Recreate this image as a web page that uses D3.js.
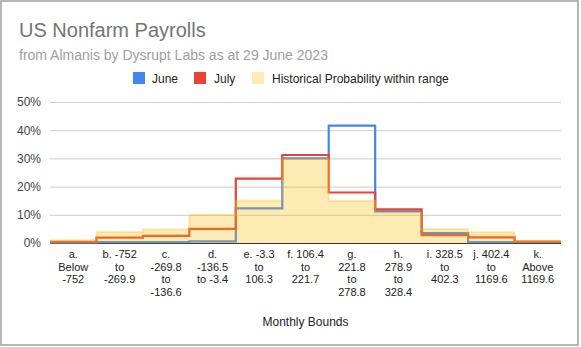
<!DOCTYPE html>
<html>
<head>
<meta charset="utf-8">
<script src="https://cdn.jsdelivr.net/npm/d3@7/dist/d3.min.js"></script>
<style>
  html, body { margin: 0; padding: 0; background: #fff; }
  svg { display: block; font-family: Arial, "Liberation Sans", sans-serif; }
</style>
</head>
<body>
<svg id="chart" width="581" height="347"></svg>
<script>
// ---- data ----
const categories = ["a", "b", "c", "d", "e", "f", "g", "h", "i", "j", "k"];
const categoryLabels = [
  ["a.", "Below", "-752"],
  ["b. -752", "to", "-269.9"],
  ["c.", "-269.8", "to", "-136.6"],
  ["d.", "-136.5", "to -3.4"],
  ["e. -3.3", "to", "106.3"],
  ["f. 106.4", "to", "221.7"],
  ["g.", "221.8", "to", "278.8"],
  ["h.", "278.9", "to", "328.4"],
  ["i. 328.5", "to", "402.3"],
  ["j. 402.4", "to", "1169.6"],
  ["k.", "Above", "1169.6"]
];
const june = [0.1, 0.3, 0.3, 0.6, 12.3, 30.0, 41.6, 11.2, 3.5, 0.3, 0.3];
const july = [0.4, 1.9, 2.5, 5.0, 22.8, 31.2, 17.9, 11.9, 2.8, 2.0, 0.5];
const historical = [1.0, 3.9, 4.8, 9.9, 15.0, 29.9, 15.0, 10.9, 5.0, 3.8, 0.7];
const yTicks = [0, 10, 20, 30, 40, 50];
const seriesNames = ["June", "July", "Historical Probability within range"];

// ---- layout ----
const plot = { left: 50, right: 561, top: 102, bottom: 243 };
const svg = d3.select("#chart");

svg.append("rect").attr("x", 1).attr("y", 1).attr("width", 577).attr("height", 344)
  .attr("fill", "#fff").attr("stroke", "#9e9e9e").attr("stroke-width", 1.5);

svg.append("text").attr("x", 19).attr("y", 37).attr("font-size", 20).attr("fill", "#757575")
  .text("US Nonfarm Payrolls");
svg.append("text").attr("x", 19).attr("y", 59.5).attr("font-size", 14).attr("fill", "#9e9e9e")
  .text("from Almanis by Dysrupt Labs as at 29 June 2023");

const x = d3.scaleBand().domain(categories).range([plot.left, plot.right]).paddingInner(0).paddingOuter(0);
const y = d3.scaleLinear().domain([0, 50]).range([plot.bottom, plot.top]);

// gridlines + y labels
const yAxis = d3.axisLeft(y).tickValues(yTicks).tickFormat(d => d + "%")
  .tickSize(-(plot.right - plot.left)).tickPadding(9);
const gy = svg.append("g").attr("transform", `translate(${plot.left},0)`).call(yAxis);
gy.select(".domain").remove();
gy.selectAll(".tick line").attr("stroke", "#cccccc").attr("stroke-width", 1);
gy.selectAll(".tick text").attr("font-size", 12).attr("fill", "#444").attr("font-family", "Arial, 'Liberation Sans', sans-serif");
gy.selectAll(".tick").filter(d => d === 0).select("line").attr("stroke", "#333");

// step series
function stepPoints(vals) {
  const pts = categories.map((c, i) => [x(c), vals[i]]);
  pts.push([plot.right, vals[vals.length - 1]]);
  return pts;
}
const line = d3.line().x(d => d[0]).y(d => y(d[1])).curve(d3.curveStepAfter);
const area = d3.area().x(d => d[0]).y0(y(0)).y1(d => y(d[1])).curve(d3.curveStepAfter);

const colors = { june: "#4285F4", july: "#EA4335", hist: "#FBBC04" };

svg.append("path").attr("d", line(stepPoints(june))).attr("fill", "none")
  .attr("stroke", colors.june).attr("stroke-width", 2.2);
svg.append("path").attr("d", line(stepPoints(july))).attr("fill", "none")
  .attr("stroke", colors.july).attr("stroke-width", 2.2);
svg.append("path").attr("d", area(stepPoints(historical))).attr("fill", colors.hist)
  .attr("fill-opacity", 0.3).attr("stroke", "none");
svg.append("path").attr("d", line(stepPoints(historical))).attr("fill", "none")
  .attr("stroke", colors.hist).attr("stroke-opacity", 0.3).attr("stroke-width", 2);

// x labels
const gx = svg.append("g");
categories.forEach((c, i) => {
  const cx = x(c) + x.bandwidth() / 2;
  categoryLabels[i].forEach((ln, j) => {
    gx.append("text").attr("x", cx).attr("y", 258 + j * 12.5)
      .attr("text-anchor", "middle").attr("font-size", 11).attr("fill", "#222").text(ln);
  });
});

svg.append("text").attr("x", (plot.left + plot.right) / 2).attr("y", 326)
  .attr("text-anchor", "middle").attr("font-size", 12).attr("fill", "#222").text("Monthly Bounds");

// legend
const legendItems = [
  { name: seriesNames[0], color: colors.june, op: 1, sx: 133, tx: 152 },
  { name: seriesNames[1], color: colors.july, op: 1, sx: 194, tx: 214 },
  { name: seriesNames[2], color: colors.hist, op: 0.3, sx: 252, tx: 272 }
];
legendItems.forEach(d => {
  svg.append("rect").attr("x", d.sx).attr("y", 72).attr("width", 12).attr("height", 12)
    .attr("fill", d.color).attr("fill-opacity", d.op);
  svg.append("text").attr("x", d.tx).attr("y", 82.5).attr("font-size", 12).attr("fill", "#222").text(d.name);
});
</script>
</body>
</html>
